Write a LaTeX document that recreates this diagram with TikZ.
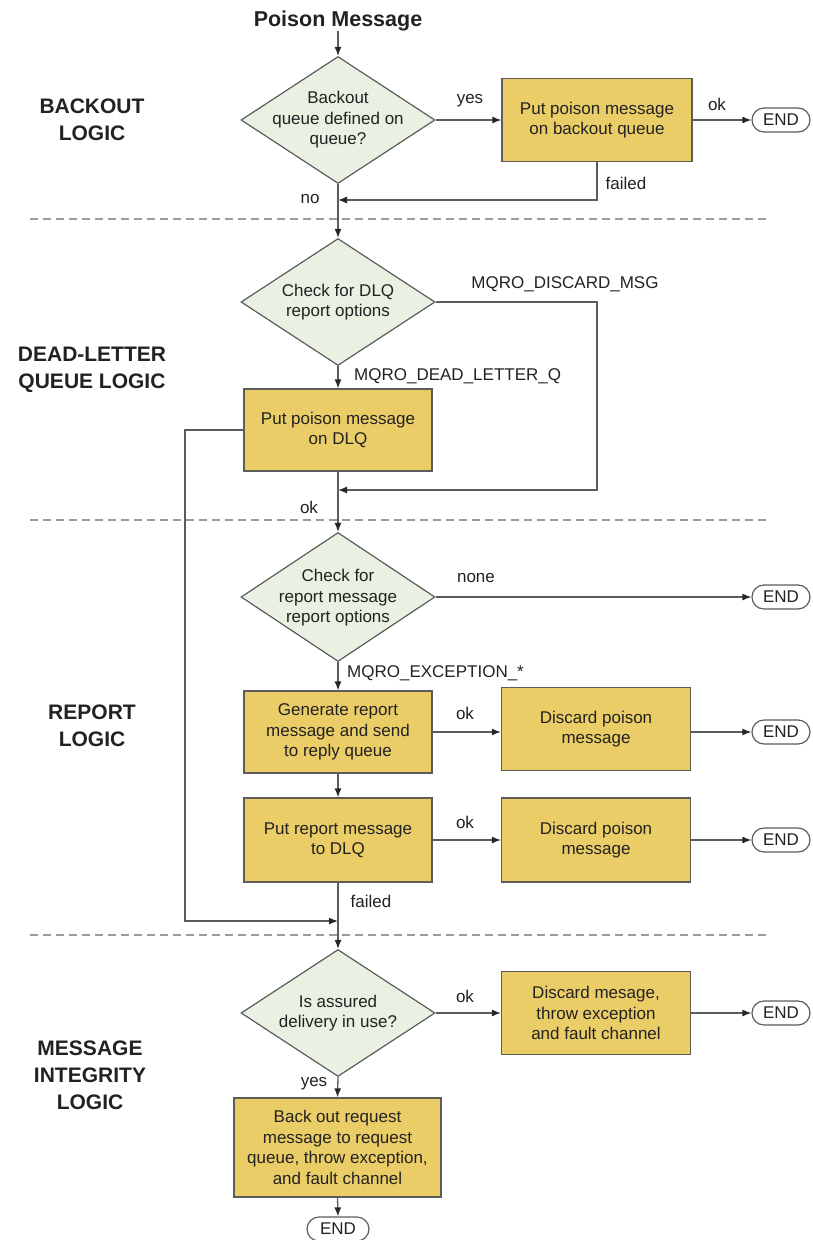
\documentclass[tikz,border=0pt]{standalone}
\usepackage{fontspec}
\setmainfont{Liberation Sans}
\usetikzlibrary{shapes.geometric,shapes.misc,arrows.meta}
\definecolor{boxfill}{HTML}{EBCD67}
\definecolor{dfill}{HTML}{E9F1E3}
\definecolor{edgec}{HTML}{5C5C5C}
\definecolor{sepc}{HTML}{9C9C9C}
\definecolor{txt}{HTML}{222222}
\begin{document}
\begin{tikzpicture}[x=1pt,y=-1pt,
  every node/.style={font=\fontsize{17}{20.5}\selectfont, text=txt},
  procbox/.style={draw=edgec, line width=1.2pt, fill=boxfill, align=center, inner sep=0pt, minimum width=189pt, minimum height=83pt},
  decision/.style={diamond, draw=edgec, line width=1.2pt, fill=dfill, inner sep=0pt, minimum width=194pt, minimum height=127pt},
  dtext/.style={align=center, inner sep=0pt},
  endbox/.style={rounded rectangle, draw=edgec, line width=1.2pt, fill=white, minimum width=58pt, minimum height=24pt, inner sep=0pt},
  section/.style={font=\fontsize{21}{27}\selectfont\bfseries, align=center, inner sep=0pt},
  heading/.style={font=\fontsize{21.5}{26}\selectfont\bfseries, inner sep=0pt},
  lbl/.style={inner sep=0pt},
  flow/.style={draw=edgec, line width=1.3pt, -{Latex[length=9pt,width=7pt,color=black!85]}},
  sepline/.style={draw=sepc, line width=2pt, dash pattern=on 8pt off 5pt}
]
\useasboundingbox (0,0) rectangle (813,1240);

% separators
\draw[sepline] (30,219) -- (766,219);
\draw[sepline] (30,520) -- (766,520);
\draw[sepline] (30,935) -- (766,935);

% section titles
\node[section] (s1) at (92,120) {BACKOUT\\LOGIC};
\node[section] (s2) at (92,370) {DEAD-LETTER\\QUEUE LOGIC};
\node[section] (s3) at (92,726) {REPORT\\LOGIC};
\node[section] (s4) at (90,1075) {MESSAGE\\INTEGRITY\\LOGIC};

% title
\node[heading] (pm) at (338,21) {Poison Message};

% backout logic
\node[decision] (d1) at (338,120) {};
\node[dtext] (d1t) at (338,120) {Backout\\queue defined on\\queue?};
\node[procbox, minimum width=190pt] (b1) at (597,120) {Put poison message\\on backout queue};
\node[endbox] (e1) at (781,120) {END};
\coordinate (j1) at (338,200);

% dead-letter logic
\node[decision] (d2) at (338,302) {};
\node[dtext] (d2t) at (338,302) {Check for DLQ\\report options};
\node[procbox, minimum width=188pt, minimum height=82pt] (b2) at (338,430) {Put poison message\\on DLQ};
\coordinate (k2) at (597,490);
\coordinate (j2) at (338,490);
\coordinate (k3) at (185,921);
\coordinate (j3) at (338,921);

% report logic
\node[decision, minimum height=129pt] (d3) at (338,597) {};
\node[dtext] (d3t) at (338,598) {Check for\\report message\\report options};
\node[endbox] (e3) at (781,597) {END};
\node[procbox, minimum width=188pt, minimum height=82pt] (g) at (338,732) {Generate report\\message and send\\to reply queue};
\node[procbox] (c1) at (596,729) {Discard poison\\message};
\node[endbox] (e4) at (781,732) {END};
\node[procbox, minimum width=188pt, minimum height=84pt] (p) at (338,840) {Put report message\\to DLQ};
\node[procbox, minimum height=84pt] (c2) at (596,840) {Discard poison\\message};
\node[endbox] (e5) at (781,840) {END};

% message integrity logic
\node[decision] (d4) at (338,1013) {};
\node[dtext] (d4t) at (338,1013) {Is assured\\delivery in use?};
\node[procbox] (c3) at (596,1013) {Discard mesage,\\throw exception\\and fault channel};
\node[endbox] (e6) at (781,1013) {END};
\node[procbox, minimum width=207pt, minimum height=99pt] (bk) at (337.5,1147.5) {Back out request\\message to request\\queue, throw exception,\\and fault channel};
\node[endbox, minimum width=62pt] (e7) at (338,1229) {END};

% connectors
\draw[flow] (pm) -- (d1.north);
\draw[flow] (d1.east) -- (b1.west);
\draw[flow] (b1.east) -- (e1.west);
\draw[flow] (b1.south) |- (j1);
\draw[flow] (d1.south) -- (d2.north);
\draw[flow] (d2.east) -| (k2) -- (j2);
\draw[flow] (d2.south) -- (b2.north);
\draw[flow] (b2.west) -| (k3) -- (j3);
\draw[flow] (b2.south) -- (d3.north);
\draw[flow] (d3.east) -- (e3.west);
\draw[flow] (d3.south) -- (g.north);
\draw[flow] (g.east) -- (g.east -| c1.west);
\draw[flow] (c1.east |- e4.west) -- (e4.west);
\draw[flow] (g.south) -- (p.north);
\draw[flow] (p.east) -- (c2.west);
\draw[flow] (c2.east) -- (e5.west);
\draw[flow] (p.south) -- (d4.north);
\draw[flow] (d4.east) -- (c3.west);
\draw[flow] (c3.east) -- (e6.west);
\draw[flow] (d4.south) -- (bk.north);
\draw[flow] (bk.south) -- (e7.north);

% connector labels
\node[lbl] (l1) at (470,101) {yes};
\node[lbl] (l2) at (717,104) {ok};
\node[lbl] (l3) at (626,183) {failed};
\node[lbl] (l4) at (310,199) {no};
\node[lbl] (l5) at (565,284) {MQRO\_DISCARD\_MSG};
\node[lbl, anchor=west] (l6) at (354,376) {MQRO\_DEAD\_LETTER\_Q};
\node[lbl] (l7) at (309,507) {ok};
\node[lbl] (l8) at (476,578) {none};
\node[lbl, anchor=west] (l9) at (347,673) {MQRO\_EXCEPTION\_*};
\node[lbl] (l10) at (465,713) {ok};
\node[lbl] (l11) at (465,822) {ok};
\node[lbl] (l12) at (371,901) {failed};
\node[lbl] (l13) at (465,996) {ok};
\node[lbl] (l14) at (314,1084) {yes};
\end{tikzpicture}
\end{document}
